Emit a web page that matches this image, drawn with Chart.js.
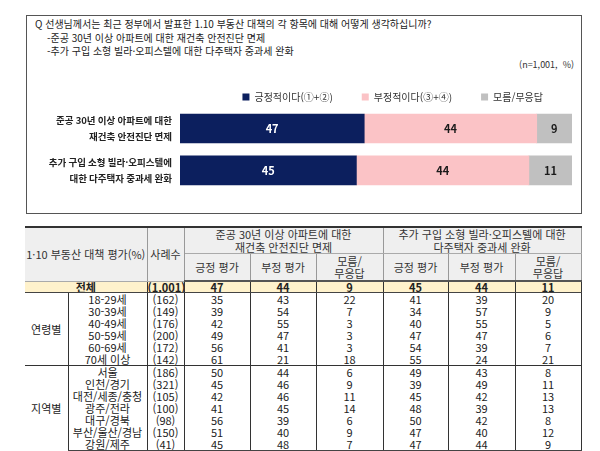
<!DOCTYPE html>
<html lang="ko">
<head>
<meta charset="utf-8">
<script src="https://cdn.jsdelivr.net/npm/chart.js@4.4.1/dist/chart.umd.min.js"></script>
<style>
html,body{margin:0;padding:0;background:#fff;}
body{width:600px;height:451px;position:relative;overflow:hidden;font-family:'Noto Sans CJK KR','Noto Sans',sans-serif;color:#222;}
#box{position:absolute;left:26px;top:15px;width:554px;height:197px;border:1px solid #555;}
#q{position:absolute;left:35px;top:17px;font-size:10px;line-height:13.5px;white-space:nowrap;color:#222;}
#q .sub{padding-left:12px;}
#nnote{position:absolute;right:26px;top:59px;font-size:9px;line-height:12px;color:#333;}
#chartWrap{position:absolute;left:26px;top:63px;width:555px;height:153px;}
#tbl{position:absolute;left:25px;top:226px;width:556px;border-collapse:collapse;table-layout:fixed;font-size:11px;color:#222;}
#tbl th,#tbl td{padding:0;text-align:center;vertical-align:middle;white-space:nowrap;overflow:hidden;}
#tbl th{font-weight:normal;color:#333;background:#efefef;line-height:12.5px;border-left:1px solid #999;border-right:1px solid #999;}
#tbl tr.h1 th{border-top:2px solid #333;height:24px;border-bottom:1px solid #aaa;}
#tbl tr.h2 th{border-bottom:2px solid #555;height:26px;}
#tbl th.first{border-left:none;}
#tbl td{line-height:12px;border-left:1px solid #333;border-right:1px solid #333;}
#tbl td.grp{border-left:none;border-bottom:1px solid #333;}
#tbl tr.total td{background:#fff2cc;font-weight:bold;height:10px;line-height:10px;border-bottom:1.5px solid #444;}
#tbl tr.total td.first{border-left:none;}
#tbl tr.endAge td{border-bottom:1px solid #333;}
#tbl tr.endReg td{border-bottom:2px solid #444;}
</style>
</head>
<body>
<div id="box"></div>
<div id="q">
<div>Q&nbsp;선생님께서는 최근 정부에서 발표한 1.10 부동산 대책의 각 항목에 대해 어떻게 생각하십니까?</div>
<div class="sub">-준공 30년 이상 아파트에 대한 재건축 안전진단 면제</div>
<div class="sub">-추가 구입 소형 빌라·오피스텔에 대한 다주택자 중과세 완화</div>
</div>
<div id="nnote">(n=1,001,&nbsp; %)</div>
<div id="chartWrap"><canvas id="c" width="555" height="153" style="width:555px;height:153px"></canvas></div>
<table id="tbl">
<colgroup>
<col style="width:43px"><col style="width:79px"><col style="width:37px">
<col style="width:66px"><col style="width:66px"><col style="width:67px">
<col style="width:65px"><col style="width:67px"><col style="width:66px">
</colgroup>
<thead id="th"></thead>
<tbody id="tb"></tbody>
</table>
<script>
// ---- chart data ----
const categories = [
  ['준공 30년 이상 아파트에 대한', '재건축 안전진단 면제'],
  ['추가 구입 소형 빌라·오피스텔에', '대한 다주택자 중과세 완화']
];
const seriesLabels = ['긍정적이다(①+②)', '부정적이다(③+④)', '모름/무응답'];
const positive = [47, 45];
const negative = [44, 44];
const unknown = [9, 11];

// ---- table data ----
const tableTitle = '1·10 부동산 대책 평가(%)';
const sampleHeader = '사례수';
const itemHeaders = [['준공 30년 이상 아파트에 대한', '재건축 안전진단 면제'], ['추가 구입 소형 빌라·오피스텔에 대한', '다주택자 중과세 완화']];
const subHeaders = [['긍정 평가'], ['부정 평가'], ['모름/', '무응답']];
const totalLabel = '전체';
const totalSample = 1001;
const totalRebuild = [47, 44, 9];
const totalTax = [45, 44, 11];
const ageGroupLabel = '연령별';
const ageLabels = ['18-29세', '30-39세', '40-49세', '50-59세', '60-69세', '70세 이상'];
const ageSamples = [162, 149, 176, 200, 172, 142];
const ageRebuild = [[35, 43, 22], [39, 54, 7], [42, 55, 3], [49, 47, 3], [56, 41, 3], [61, 21, 18]];
const ageTax = [[41, 39, 20], [34, 57, 9], [40, 55, 5], [47, 47, 6], [54, 39, 7], [55, 24, 21]];
const regionGroupLabel = '지역별';
const regionLabels = ['서울', '인천/경기', '대전/세종/충청', '광주/전라', '대구/경북', '부산/울산/경남', '강원/제주'];
const regionSamples = [186, 321, 105, 100, 98, 150, 41];
const regionRebuild = [[50, 44, 6], [45, 46, 9], [42, 46, 11], [41, 45, 14], [56, 39, 6], [51, 40, 9], [45, 48, 7]];
const regionTax = [[49, 43, 8], [39, 49, 11], [45, 42, 13], [48, 39, 13], [50, 42, 8], [47, 40, 12], [47, 44, 9]];

const FONT = "'Noto Sans CJK KR','Noto Sans',sans-serif";

// ---- build table ----
const fmtN = n => '(' + n.toLocaleString('en-US') + ')';
const esc = s => String(s);
let head = '<tr class="h1"><th class="first" colspan="2" rowspan="2">' + tableTitle + '</th><th rowspan="2">' + sampleHeader + '</th>';
itemHeaders.forEach(h => { head += '<th colspan="3">' + h.join('<br>') + '</th>'; });
head += '</tr><tr class="h2">';
itemHeaders.forEach(() => subHeaders.forEach(s => { head += '<th>' + s.join('<br>') + '</th>'; }));
head += '</tr>';
document.getElementById('th').innerHTML = head;

let body = '<tr class="total"><td class="first" colspan="2">' + totalLabel + '</td><td>' + fmtN(totalSample) + '</td>';
totalRebuild.concat(totalTax).forEach(v => { body += '<td>' + v + '</td>'; });
body += '</tr>';
function groupRows(groupLabel, labels, samples, a, b, endCls, heights) {
  let s = '';
  labels.forEach((lab, i) => {
    const cls = i === labels.length - 1 ? endCls : '';
    s += '<tr class="' + cls + '" style="height:' + heights[i] + 'px">';
    if (i === 0) s += '<td class="grp" rowspan="' + labels.length + '">' + groupLabel + '</td>';
    s += '<td>' + esc(lab) + '</td><td>' + fmtN(samples[i]) + '</td>';
    a[i].concat(b[i]).forEach(v => { s += '<td>' + v + '</td>'; });
    s += '</tr>';
  });
  return s;
}
body += groupRows(ageGroupLabel, ageLabels, ageSamples, ageRebuild, ageTax, 'endAge', [12, 12, 12, 12, 12, 12]);
body += groupRows(regionGroupLabel, regionLabels, regionSamples, regionRebuild, regionTax, 'endReg', [12, 12, 12, 12, 12, 12, 12]);
document.getElementById('tb').innerHTML = body;

// ---- chart ----
const barValueLabels = {
  id: 'barValueLabels',
  afterDatasetsDraw(chart) {
    const ctx = chart.ctx;
    ctx.save();
    ctx.font = 'bold 11px ' + FONT;
    ctx.textAlign = 'center';
    ctx.textBaseline = 'middle';
    chart.data.datasets.forEach((ds, i) => {
      const meta = chart.getDatasetMeta(i);
      meta.data.forEach((el, j) => {
        const p = el.getProps(['x', 'y', 'base'], true);
        ctx.fillStyle = i === 0 ? '#ffffff' : '#1a1a1a';
        ctx.fillText(String(ds.data[j]), (p.x + p.base) / 2, p.y + 0.5);
      });
    });
    ctx.restore();
  }
};

new Chart(document.getElementById('c'), {
  type: 'bar',
  data: {
    labels: categories,
    datasets: [
      { label: seriesLabels[0], data: positive, backgroundColor: '#0c1f5e' },
      { label: seriesLabels[1], data: negative, backgroundColor: '#fbc3c6' },
      { label: seriesLabels[2], data: unknown, backgroundColor: '#c0c0c0' }
    ]
  },
  options: {
    indexAxis: 'y',
    responsive: false,
    animation: false,
    devicePixelRatio: 1,
    layout: { padding: { left: 0, right: 9, top: 0, bottom: 0 } },
    datasets: { bar: { barThickness: 29, borderWidth: 0 } },
    scales: {
      x: { stacked: true, display: false, min: 0, max: 100 },
      y: {
        stacked: true,
        grid: { display: false, drawTicks: false },
        border: { display: false },
        ticks: { padding: 8, color: '#222', font: { family: FONT, size: 9.5, weight: 'bold', lineHeight: 1.75 } },
        afterFit(scale) { scale.width = 154; }
      }
    },
    plugins: {
      legend: {
        align: 'end',
        maxHeight: 44.5,
        labels: { boxWidth: 7, boxHeight: 7, padding: 29, color: '#333', font: { family: FONT, size: 10 } }
      },
      tooltip: { enabled: false }
    }
  },
  plugins: [barValueLabels]
});
</script>
</body>
</html>
